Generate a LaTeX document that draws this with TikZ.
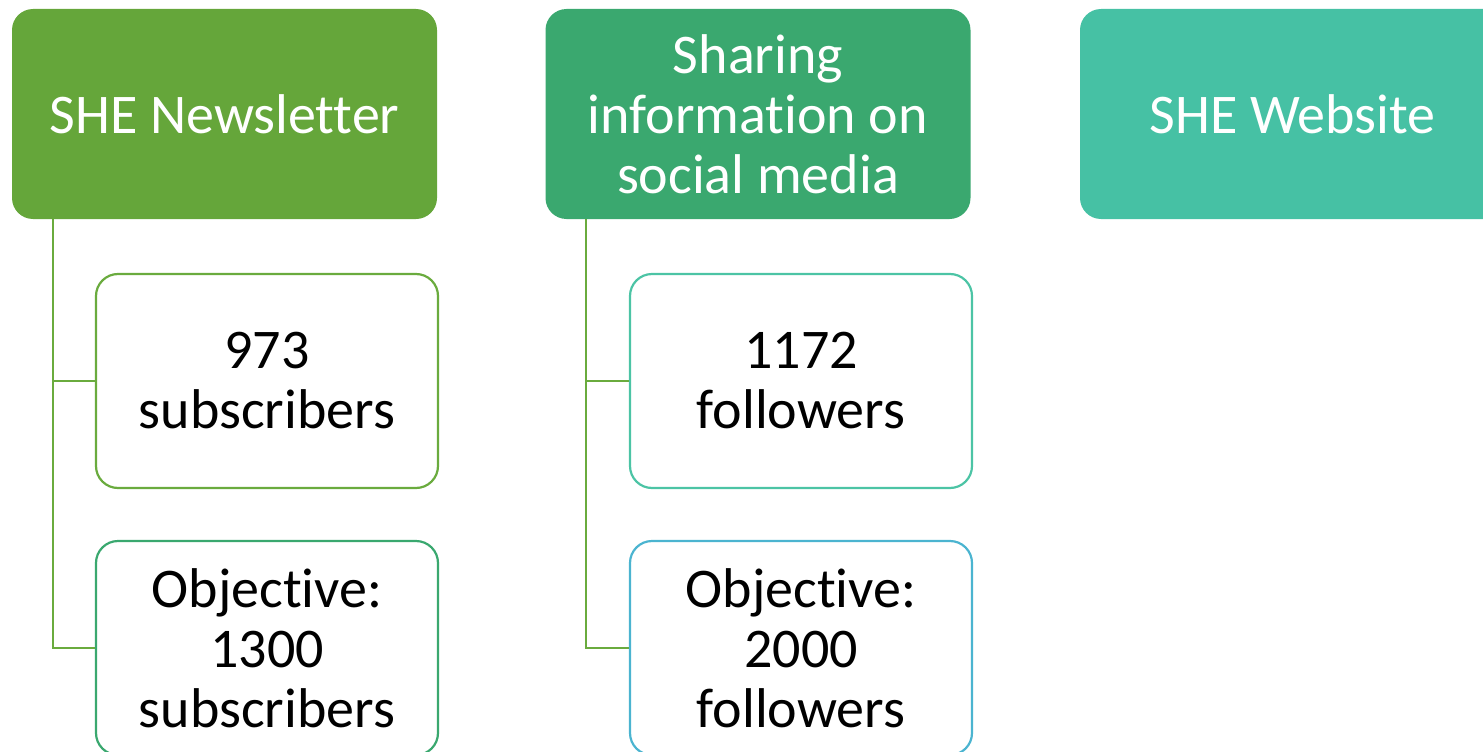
\documentclass[tikz,border=0pt]{standalone}
\usepackage{fontspec}
\setmainfont{Carlito}[Ligatures=NoCommon]
\usepackage{tikz}

\definecolor{newsgreen}{RGB}{101,166,58}
\definecolor{socialgreen}{RGB}{58,168,111}
\definecolor{webteal}{RGB}{70,193,164}
\definecolor{linegreen}{RGB}{106,171,62}
\definecolor{tealedge}{RGB}{76,196,165}
\definecolor{blueedge}{RGB}{75,180,208}

\tikzset{
  headbox/.style={rectangle, rounded corners=21, draw=none, text=white,
    minimum width=425, minimum height=210, inner sep=0, align=center,
    font=\fontsize{56}{60}\selectfont},
  leafbox/.style={rectangle, rounded corners=22, fill=white, line width=2.2,
    minimum width=342, minimum height=214, inner sep=0, align=center,
    font=\fontsize{56}{60}\selectfont},
  conn/.style={draw=linegreen, line width=2}
}

\begin{document}
\begin{tikzpicture}[x=1pt,y=1pt,yscale=-1,xscale=1]
\useasboundingbox (0,0) rectangle (1483,752);
\clip (0,0) rectangle (1483,752);

%Header boxes
\node [headbox, fill=newsgreen] (hdNews) at (224.5,114) {SHE Newsletter};
\node [headbox, fill=socialgreen] (hdSocial) at (758,114) {Sharing\\information on\\social media};
\node [headbox, fill=webteal] (hdWeb) at (1292.5,114) {SHE Website};

%Leaf boxes, newsletter
\node [leafbox, draw=linegreen] (subsNow) at (267,381) {973\\subscribers};
\node [leafbox, draw=socialgreen] (subsGoal) at (267,648) {Objective:\\1300\\subscribers};

%Leaf boxes, social media
\node [leafbox, draw=tealedge] (follNow) at (801,381) {1172\\followers};
\node [leafbox, draw=blueedge] (follGoal) at (801,648) {Objective:\\2000\\followers};

%Connectors
\draw [conn] ([xshift=41]hdNews.south west) |- (subsNow.west);
\draw [conn] ([xshift=41]hdNews.south west) |- (subsGoal.west);
\draw [conn] ([xshift=41]hdSocial.south west) |- (follNow.west);
\draw [conn] ([xshift=41]hdSocial.south west) |- (follGoal.west);

\end{tikzpicture}
\end{document}
